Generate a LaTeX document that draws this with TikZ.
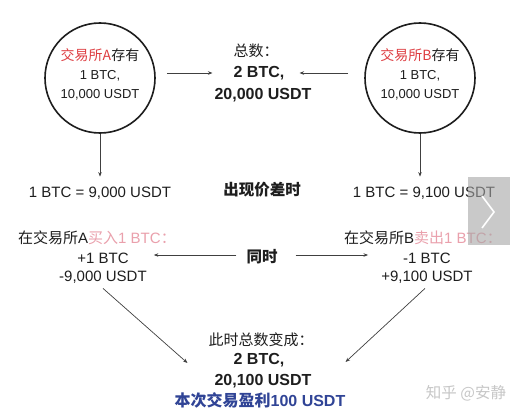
\documentclass[tikz,border=0pt]{standalone}
\usepackage{fontspec}
\setmainfont{Liberation Sans}
\newfontfamily\cjk{Noto Sans CJK SC}
\usetikzlibrary{arrows.meta,calc}
\definecolor{redA}{RGB}{222,62,66}
\definecolor{pinkA}{RGB}{234,160,172}
\definecolor{blueA}{RGB}{48,68,150}
\definecolor{ink}{RGB}{30,30,30}
\newcommand{\zh}[1]{{\cjk #1}}
\begin{document}
\begin{tikzpicture}[x=1pt,y=-1pt,
  ring/.style={circle,draw=ink,line width=1.6pt,minimum size=110pt,inner sep=0pt},
  txt/.style={inner sep=0pt,text=ink,font=\fontsize{15}{18}\selectfont},
  ctxt/.style={inner sep=0pt,text=ink,align=center,font=\fontsize{13}{19}\selectfont},
  btxt/.style={inner sep=0pt,text=ink,font=\fontsize{16}{18}\selectfont\bfseries},
  arr/.style={draw=ink!85,line width=0.7pt,-{Stealth[length=4.5pt,width=3.5pt]}}]
\useasboundingbox[fill=white] (0,0) rectangle (523,415);

% circles
\node[ring] (cA) at (100,78) {};
\node[ring] (cB) at (420,78) {};
\node[ctxt] (cAtxt) at (100,74) {{\fontsize{14}{19}\selectfont\zh{\textcolor{redA}{交易所A}存有}}\\ 1 BTC,\\ 10,000 USDT};
\node[ctxt] (cBtxt) at (420,74) {{\fontsize{14}{19}\selectfont\zh{\textcolor{redA}{交易所B}存有}}\\ 1 BTC,\\ 10,000 USDT};

% total
\node[txt] (totH) at (256,51) {\zh{总数：}};
\node[btxt] (tot2) at (259,73) {2 BTC,};
\node[btxt] (totU) at (263,95) {20,000 USDT};

\draw[arr] ($(cA.east |- tot2.west)+(11,0)$) -- ($(tot2.west)+(-21,0)$);
\draw[arr] ($(cB.west |- tot2.east)+(-16,0)$) -- ($(tot2.east)+(15,0)$);

% prices
\node[txt] (pA) at (100,193) {1 BTC = 9,000 USDT};
\node[txt] (pB) at (424,193) {1 BTC = 9,100 USDT};
\node[btxt,font=\fontsize{15.5}{18}\selectfont\bfseries] (diff) at (262,190) {\zh{出现价差时}};
\draw[arr] (cA.south) -- ($(pA.north -| cA.south)+(0,-10)$);
\draw[arr] (cB.south) -- ($(pB.north -| cB.south)+(0,-10)$);

% trades
\node[txt] (buyA) at (97,238) {\zh{在交易所}A\textcolor{pinkA}{\zh{买入}1 BTC\zh{：}}};
\node[txt] (buyA2) at (103,258) {+1 BTC};
\node[txt] (buyA3) at (103,277) {-9,000 USDT};
\node[txt] (sellB) at (423,238) {\zh{在交易所}B\textcolor{pinkA}{\zh{卖出}1 BTC\zh{：}}};
\node[txt] (sellB2) at (427,258) {-1 BTC};
\node[txt] (sellB3) at (427,277) {+9,100 USDT};
\node[btxt,font=\fontsize{15.5}{18}\selectfont\bfseries] (same) at (262,257) {\zh{同时}};

\draw[arr] ($(same.west)+(-10,-2)$) -- ($(buyA2.east)+(25,-3)$);
\draw[arr] ($(same.east)+(18,-2)$) -- ($(sellB2.west)+(-35,-3)$);

% final
\node[txt] (finH) at (261,340) {\zh{此时总数变成：}};
\node[btxt] (fin2) at (259,360) {2 BTC,};
\node[btxt] (fin3) at (263,381) {20,100 USDT};
\node[btxt,text=blueA] (fin4) at (260,400) {\zh{本次交易盈利}100 USDT};

\draw[arr] ($(buyA3.south)+(0,5)$) -- ($(fin2.west)+(-46,3)$);
\draw[arr] ($(sellB3.south)+(-2,5)$) -- ($(fin2.east)+(61,2)$);

% watermark
\node[inner sep=0pt,text=black!22,font=\fontsize{15.5}{18}\selectfont] (wm) at (466,393) {\zh{知乎 @安静}};

% overlay button
\node[fill=black!35,fill opacity=0.6,minimum width=42pt,minimum height=68pt,inner sep=0pt] (btn) at (489,211) {};
\draw[white,line width=1.6pt] ($(btn.center)+(-7,-15)$) -- ($(btn.center)+(5,1)$) -- ($(btn.center)+(-7,17)$);
\end{tikzpicture}
\end{document}
